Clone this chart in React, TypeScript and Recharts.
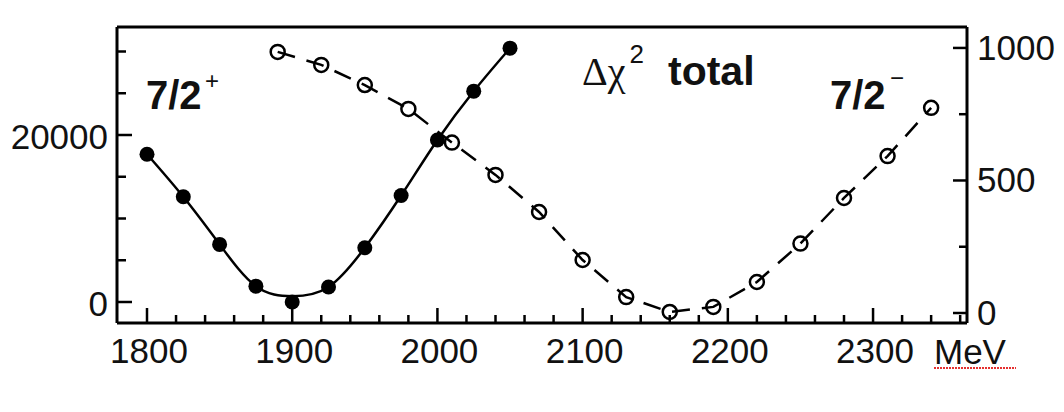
import React from 'react';
import { ComposedChart, Line, XAxis, YAxis } from 'recharts';

// tick positions / labels
const X_TICKS = [1800, 1820, 1840, 1860, 1880, 1900, 1920, 1940, 1960, 1980, 2000, 2020, 2040, 2060, 2080, 2100, 2120, 2140, 2160, 2180, 2200, 2220, 2240, 2260, 2280, 2300, 2320, 2340, 2360];
const X_LABELS = [1800, 1900, 2000, 2100, 2200, 2300];
const LEFT_TICKS = [0, 5000, 10000, 15000, 20000, 25000, 30000];
const LEFT_LABELS = [0, 20000];
const RIGHT_TICKS = [0, 250, 500, 750, 1000];
const RIGHT_LABELS = [0, 500, 1000];

// 7/2+ (left axis), filled dots + fitted curve
const plusMass = [1800, 1825, 1850, 1875, 1900, 1925, 1950, 1975, 2000, 2025, 2050];
const plusChi2 = [17700, 12600, 6900, 1900, 0, 1800, 6500, 12750, 19400, 25250, 30400];
const plusFit = [17700, 12600, 6900, 1900, 700, 1800, 6500, 12750, 19400, 25250, 30400];

// 7/2- (right axis), open circles + dashed line
const minusMass = [1890, 1920, 1950, 1980, 2010, 2040, 2070, 2100, 2130, 2160, 2190, 2220, 2250, 2280, 2310, 2340];
const minusChi2 = [985, 936, 860, 770, 643, 521, 381, 200, 60, 4, 23, 117, 262, 434, 592, 774];

const plusData = plusMass.map((m, i) => ({ m, v: plusChi2[i], fit: plusFit[i] }));
const minusData = minusMass.map((m, i) => ({ m, v: minusChi2[i] }));

const FONT = '"Liberation Sans", Arial, Helvetica, sans-serif';
const SERIF = '"Liberation Serif", "Times New Roman", serif';
const INK = '#000';

function BottomTick({ x, y, payload }: any) {
  const major = X_LABELS.includes(payload.value);
  return (
    <g>
      <line x1={x} y1={y} x2={x} y2={y - (major ? 15 : 8)} stroke={INK} strokeWidth={2.5} />
      {major && (
        <text x={x + 2} y={y + 40} textAnchor="middle" fontSize={35} fontFamily={FONT} fill="#111">
          {payload.value}
        </text>
      )}
    </g>
  );
}

function LeftTick({ x, y, payload }: any) {
  const major = LEFT_LABELS.includes(payload.value);
  return (
    <g>
      <line x1={x} y1={y} x2={x + (major ? 15 : 9)} y2={y} stroke={INK} strokeWidth={2.5} />
      {major && (
        <text x={x - 9} y={y + 14} textAnchor="end" fontSize={35} fontFamily={FONT} fill="#111">
          {payload.value}
        </text>
      )}
    </g>
  );
}

function RightTick({ x, y, payload }: any) {
  const major = RIGHT_LABELS.includes(payload.value);
  return (
    <g>
      <line x1={x} y1={y} x2={x - (major ? 14 : 8)} y2={y} stroke={INK} strokeWidth={2.5} />
      {major && (
        <text x={x + 10} y={y + 12} textAnchor="start" fontSize={35} fontFamily={FONT} fill="#111">
          {payload.value}
        </text>
      )}
    </g>
  );
}

export default function App() {
  return (
    <div style={{ position: 'absolute', left: 0, top: 0, width: 1064, height: 412, background: '#fff' }}>
      <ComposedChart width={1064} height={412} margin={{ top: 26, right: 0, bottom: 0, left: 0 }}>
        <XAxis
          xAxisId="b"
          dataKey="m"
          type="number"
          domain={[1779.34, 2364.7]}
          allowDataOverflow
          ticks={X_TICKS}
          interval={0}
          height={89}
          tickSize={0}
          tickMargin={0}
          tickLine={false}
          axisLine={{ stroke: INK, strokeWidth: 3 }}
          tick={<BottomTick />}
        />
        <XAxis
          xAxisId="t"
          orientation="top"
          dataKey="m"
          type="number"
          domain={[1779.34, 2364.7]}
          allowDataOverflow
          height={1}
          tickSize={0}
          tick={false}
          tickLine={false}
          axisLine={{ stroke: INK, strokeWidth: 3 }}
        />
        <YAxis
          yAxisId="l"
          type="number"
          domain={[-2515, 32934]}
          allowDataOverflow
          ticks={LEFT_TICKS}
          interval={0}
          width={117}
          tickSize={0}
          tickMargin={0}
          tickLine={false}
          axisLine={{ stroke: INK, strokeWidth: 3 }}
          tick={<LeftTick />}
        />
        <YAxis
          yAxisId="r"
          orientation="right"
          type="number"
          domain={[-37.7, 1079]}
          allowDataOverflow
          ticks={RIGHT_TICKS}
          interval={0}
          width={97}
          tickSize={0}
          tickMargin={0}
          tickLine={false}
          axisLine={{ stroke: INK, strokeWidth: 3 }}
          tick={<RightTick />}
        />
        <Line
          xAxisId="b"
          yAxisId="r"
          data={minusData}
          dataKey="v"
          type="linear"
          stroke={INK}
          strokeWidth={2.5}
          strokeDasharray="18 12"
          dot={{ r: 7, fill: 'none', stroke: INK, strokeWidth: 2.5, strokeDasharray: 'none' }}
          isAnimationActive={false}
        />
        <Line
          xAxisId="b"
          yAxisId="l"
          data={plusData}
          dataKey="fit"
          type="natural"
          stroke={INK}
          strokeWidth={2.5}
          dot={false}
          isAnimationActive={false}
        />
        <Line
          xAxisId="b"
          yAxisId="l"
          data={plusData}
          dataKey="v"
          stroke="none"
          dot={{ r: 7.5, fill: INK, stroke: 'none' }}
          isAnimationActive={false}
        />
      </ComposedChart>
      <svg
        width={1064}
        height={412}
        style={{ position: 'absolute', left: 0, top: 0, pointerEvents: 'none' }}
      >
        <text x={146} y={109} fontSize={40} fontWeight="bold" fontFamily={FONT} fill="#111">7/2</text>
        <text x={205} y={89} fontSize={24} fontFamily={FONT} fill="#111">+</text>
        <text x={582} y={85} fontSize={40} fontFamily={SERIF} fill="#111">
          Δχ
          <tspan fontSize={26} fontFamily={FONT} dx={4} dy={-22}>2</tspan>
        </text>
        <text x={668} y={85} fontSize={41} fontWeight="bold" fontFamily={FONT} fill="#111">total</text>
        <text x={830} y={109} fontSize={40} fontWeight="bold" fontFamily={FONT} fill="#111">7/2</text>
        <text x={890} y={86} fontSize={24} fontFamily={FONT} fill="#111">−</text>
        <text x={934} y={364} fontSize={35} fontFamily={FONT} fill="#111">MeV</text>
        <line x1={934} y1={368} x2={1016} y2={368} stroke="#e53030" strokeWidth={2} strokeDasharray="2 1" />
      </svg>
    </div>
  );
}
